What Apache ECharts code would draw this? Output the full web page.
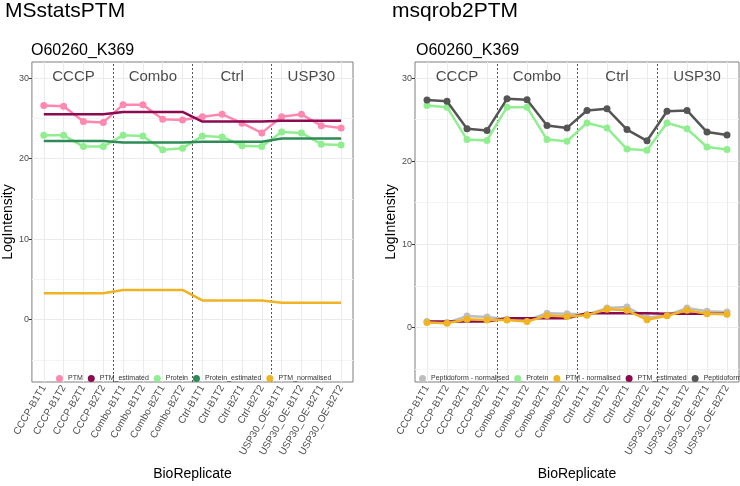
<!DOCTYPE html>
<html><head><meta charset="utf-8">
<script src="https://cdn.jsdelivr.net/npm/echarts@6.0.0/dist/echarts.min.js"></script>
<style>html,body{margin:0;padding:0;background:#fff}#c{width:740px;height:486px}</style>
</head><body><div id="c"></div>
<script>
const categories = ['CCCP-B1T1','CCCP-B1T2','CCCP-B2T1','CCCP-B2T2','Combo-B1T1','Combo-B1T2','Combo-B2T1','Combo-B2T2','Ctrl-B1T1','Ctrl-B1T2','Ctrl-B2T1','Ctrl-B2T2','USP30_OE-B1T1','USP30_OE-B1T2','USP30_OE-B2T1','USP30_OE-B2T2'];
const groups = ['CCCP','Combo','Ctrl','USP30'];
const groupSize = 4;
const yTicks = [0, 10, 20, 30];
const yMinor = [-5, 5, 15, 25];
const leftYRange = [-7.73, 32];
const rightYRange = [-6.57, 31.93];
const stripY = 30.1;

// MSstatsPTM panel
const msPTM      = [26.6,26.5,24.6,24.5,26.7,26.7,24.9,24.8,25.2,25.5,24.4,23.2,25.2,25.5,24.1,23.8];
const msPTMest   = [25.5,25.5,25.5,25.5,25.8,25.8,25.8,25.8,24.6,24.6,24.6,24.6,24.7,24.7,24.7,24.7];
const msProt     = [22.9,22.9,21.5,21.5,22.9,22.8,21.1,21.3,22.8,22.7,21.6,21.5,23.3,23.2,21.8,21.7];
const msProtEst  = [22.2,22.2,22.2,22.2,22.0,22.0,22.0,22.0,22.1,22.1,22.1,22.1,22.5,22.5,22.5,22.5];
const msPTMnorm  = [3.3,3.3,3.3,3.3,3.7,3.7,3.7,3.7,2.4,2.4,2.4,2.4,2.1,2.1,2.1,2.1];

// msqrob2PTM panel
const mqPep      = [27.37,27.2,23.9,23.7,27.5,27.4,24.3,24.0,26.1,26.3,23.8,22.45,26.0,26.1,23.5,23.15];
const mqProt     = [26.7,26.5,22.6,22.5,26.5,26.5,22.6,22.4,24.6,24.0,21.45,21.3,24.6,23.9,21.7,21.4];
const mqPTMnorm  = [0.58,0.5,0.97,0.9,0.9,0.7,1.43,1.32,1.47,2.17,2.05,0.93,1.4,2.05,1.63,1.59];
const mqPepNorm  = [0.7,0.58,1.36,1.24,0.97,0.86,1.7,1.63,1.55,2.32,2.44,1.16,1.47,2.32,1.94,1.86];
const mqPTMest   = [0.7,0.7,0.7,0.7,1.1,1.1,1.1,1.1,1.7,1.7,1.7,1.7,1.65,1.65,1.65,1.65];

const C = {
  ptm: '#FF88B0', ptmEst: '#8B0A50', prot: '#90EE90', protEst: '#2E8B57',
  norm: '#F0B323', pep: '#555555', pepNorm: '#BEBEBE'
};
const FONT = 'Liberation Sans, Arial, sans-serif';
const xTickVals = categories.map((_, i) => i + 1);
const xy = arr => arr.map((v, i) => [i + 1, v]);

function gridMarkSeries(idx) {
  const data = [];
  yMinor.forEach(v => data.push({yAxis: v, lineStyle: {color: '#F4F4F4', width: 1, type: 'solid'}}));
  yTicks.forEach(v => data.push({yAxis: v, lineStyle: {color: '#EBEBEB', width: 1, type: 'solid'}}));
  xTickVals.forEach(v => data.push({xAxis: v, lineStyle: {color: '#EBEBEB', width: 1, type: 'solid'}}));
  for (let g = 1; g < groups.length; g++) {
    data.push({xAxis: g * groupSize + 0.5, lineStyle: {color: '#555', width: 1, type: [2, 2]}});
  }
  return {
    name: 'grid' + idx, type: 'line', xAxisIndex: idx, yAxisIndex: idx, data: [],
    silent: true,
    markLine: {silent: true, symbol: 'none', z: 1, animation: false, label: {show: false},
      emphasis: {disabled: true}, data: data}
  };
}
function stripSeries(idx) {
  return {
    name: 'strip' + idx, type: 'scatter', xAxisIndex: idx, yAxisIndex: idx, symbolSize: 0, silent: true,
    data: groups.map((g, i) => ({name: g, value: [i * groupSize + (groupSize + 1) / 2, stripY]})),
    label: {show: true, position: 'inside', formatter: '{b}', fontSize: 15, color: '#1A1A1A', fontFamily: FONT},
    z: 10
  };
}
function ptSeries(name, arr, color, idx, z) {
  return {name, type: 'line', xAxisIndex: idx, yAxisIndex: idx, data: xy(arr),
    symbol: 'circle', symbolSize: 7, showSymbol: true,
    lineStyle: {color, width: 2.5}, itemStyle: {color}, z: z || 3};
}
function lnSeries(name, arr, color, idx, z) {
  return {name, type: 'line', xAxisIndex: idx, yAxisIndex: idx, data: xy(arr),
    symbol: 'none', showSymbol: false,
    lineStyle: {color, width: 2.5}, itemStyle: {color}, z: z || 3};
}
function xAxisCfg(idx) {
  return {
    type: 'value', gridIndex: idx, min: 0.4, max: 16.6,
    splitLine: {show: false}, axisLine: {show: false},
    axisTick: {show: true, customValues: xTickVals, length: 3, lineStyle: {color: '#333'}},
    axisLabel: {customValues: xTickVals, formatter: v => categories[Math.round(v) - 1], rotate: 60,
      fontSize: 10, color: '#4D4D4D', margin: 4, fontFamily: FONT},
    name: 'BioReplicate', nameLocation: 'middle', nameGap: 85,
    nameTextStyle: {fontSize: 14, color: '#000', fontFamily: FONT}
  };
}
function yAxisCfg(idx, range) {
  return {
    type: 'value', gridIndex: idx, min: range[0], max: range[1],
    splitLine: {show: false}, axisLine: {show: false},
    axisTick: {show: true, customValues: yTicks, length: 3, lineStyle: {color: '#333'}},
    axisLabel: {customValues: yTicks, fontSize: 9, color: '#4D4D4D', margin: 3, fontFamily: FONT},
    name: 'LogIntensity', nameLocation: 'middle', nameGap: 13, nameRotate: 90,
    nameTextStyle: {fontSize: 14, color: '#000', fontFamily: FONT}
  };
}
const titleStyle = (size) => ({fontSize: size, fontWeight: 'normal', color: '#000', fontFamily: FONT});

const chart = echarts.init(document.getElementById('c'), null, {renderer: 'canvas'});
chart.setOption({
  animation: false,
  backgroundColor: '#fff',
  title: [
    {text: 'MSstatsPTM', left: 5, top: 1, padding: 0, textStyle: titleStyle(21)},
    {text: 'msqrob2PTM', left: 392, top: 1, padding: 0, textStyle: titleStyle(21)},
    {text: 'O60260_K369', left: 31, top: 43, padding: 0, textStyle: titleStyle(16)},
    {text: 'O60260_K369', left: 416, top: 43, padding: 0, textStyle: titleStyle(16)}
  ],
  grid: [
    {left: 30, top: 62, width: 323, height: 332, show: true, backgroundColor: '#fff', borderColor: '#7F7F7F', borderWidth: 1, containLabel: false},
    {left: 415, top: 62, width: 324, height: 331.5, show: true, backgroundColor: '#fff', borderColor: '#7F7F7F', borderWidth: 1, containLabel: false}
  ],
  legend: [
    {data: ['PTM','PTM_estimated','Protein','Protein_estimated','PTM_normalised'], left: 56, top: 375,
      icon: 'circle', itemWidth: 7, itemHeight: 7, itemGap: 5, padding: 0, width: 600,
      textStyle: {fontSize: 7, color: '#333', fontFamily: FONT}, selectedMode: false},
    {data: ['Peptidoform - normalised','Protein','PTM - normalised','PTM_estimated','Peptidoform'], left: 419, top: 375,
      icon: 'circle', itemWidth: 7, itemHeight: 7, itemGap: 5, padding: 0, width: 600,
      textStyle: {fontSize: 7, color: '#333', fontFamily: FONT}, selectedMode: false}
  ],
  xAxis: [xAxisCfg(0), xAxisCfg(1)],
  yAxis: [yAxisCfg(0, leftYRange), yAxisCfg(1, rightYRange)],
  series: [
    gridMarkSeries(0),
    ptSeries('PTM', msPTM, C.ptm, 0),
    lnSeries('PTM_estimated', msPTMest, C.ptmEst, 0, 4),
    ptSeries('Protein', msProt, C.prot, 0),
    lnSeries('Protein_estimated', msProtEst, C.protEst, 0, 4),
    lnSeries('PTM_normalised', msPTMnorm, C.norm, 0),
    stripSeries(0),

    gridMarkSeries(1),
    ptSeries('Peptidoform - normalised', mqPepNorm, C.pepNorm, 1, 3),
    lnSeries('PTM_estimated', mqPTMest, C.ptmEst, 1, 4),
    ptSeries('PTM - normalised', mqPTMnorm, C.norm, 1, 5),
    ptSeries('Protein', mqProt, C.prot, 1, 3),
    ptSeries('Peptidoform', mqPep, C.pep, 1, 4),
    stripSeries(1)
  ]
});
</script></body></html>
